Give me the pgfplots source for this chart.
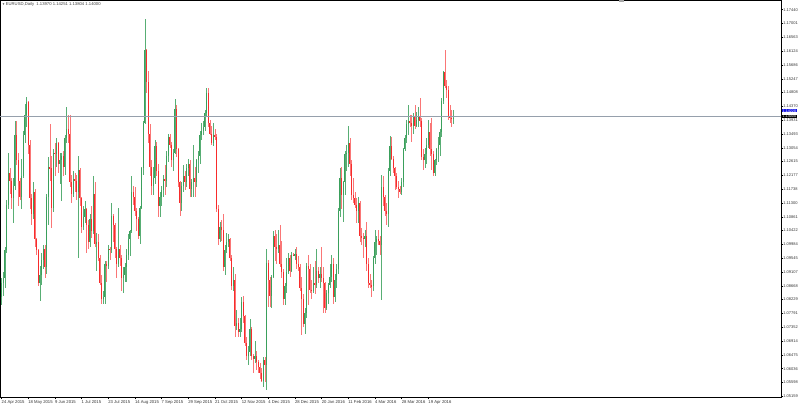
\documentclass[border=0pt]{standalone}
\usepackage{fontspec}
\setmainfont{Liberation Sans}
\usepackage{pgfplots}
\pgfplotsset{compat=1.18}
\usepackage{pgfplotstable}

\definecolor{bull}{RGB}{58,160,92}
\definecolor{bear}{RGB}{248,44,44}
\definecolor{bidline}{RGB}{150,160,172}
\definecolor{askbox}{RGB}{20,20,230}

% EURUSD daily, bar index from 24 Apr 2015
\pgfplotstableread{
i o h l c
0 1.0830 1.0890 1.0805 1.0875
1 1.0875 1.0910 1.0835 1.0890
2 1.0890 1.0990 1.0860 1.0980
3 1.0980 1.1140 1.0970 1.1125
4 1.1125 1.1290 1.1110 1.1225
5 1.1225 1.1240 1.1160 1.1200
6 1.1200 1.1210 1.1110 1.1145
7 1.1145 1.1210 1.1065 1.1185
8 1.1185 1.1390 1.1170 1.1345
9 1.1345 1.1390 1.1250 1.1265
10 1.1265 1.1290 1.1120 1.1200
11 1.1200 1.1210 1.1140 1.1150
12 1.1150 1.1270 1.1110 1.1215
13 1.1215 1.1360 1.1210 1.1345
14 1.1345 1.1445 1.1320 1.1410
15 1.1410 1.1467 1.1370 1.1450
16 1.1450 1.1455 1.1285 1.1315
17 1.1315 1.1330 1.1110 1.1145
18 1.1145 1.1160 1.1060 1.1095
19 1.1095 1.1195 1.1080 1.1165
20 1.1165 1.1175 1.0990 1.1015
21 1.1015 1.1020 1.0965 1.0980
22 1.0980 1.0985 1.0865 1.0875
23 1.0875 1.0930 1.0820 1.0900
24 1.0900 1.0970 1.0870 1.0950
25 1.0950 1.0995 1.0920 1.0985
26 1.0985 1.0995 1.0890 1.0925
27 1.0925 1.1160 1.0905 1.1150
28 1.1150 1.1275 1.1060 1.1245
29 1.1245 1.1380 1.1200 1.1240
30 1.1240 1.1280 1.1050 1.1115
31 1.1115 1.1300 1.1100 1.1290
32 1.1290 1.1320 1.1215 1.1285
33 1.1285 1.1335 1.1245 1.1320
34 1.1320 1.1325 1.1225 1.1255
35 1.1255 1.1290 1.1190 1.1265
36 1.1265 1.1290 1.1135 1.1280
37 1.1280 1.1295 1.1215 1.1245
38 1.1245 1.1345 1.1220 1.1335
39 1.1335 1.1435 1.1320 1.1365
40 1.1365 1.1410 1.1320 1.1350
41 1.1350 1.1410 1.1180 1.1195
42 1.1195 1.1220 1.1130 1.1160
43 1.1160 1.1230 1.1150 1.1205
44 1.1205 1.1225 1.1165 1.1200
45 1.1200 1.1220 1.1140 1.1165
46 1.1165 1.1280 1.0955 1.1235
47 1.1235 1.1240 1.1120 1.1145
48 1.1145 1.1150 1.1035 1.1055
49 1.1055 1.1120 1.1045 1.1085
50 1.1085 1.1135 1.1065 1.1110
51 1.1110 1.1115 1.0970 1.1060
52 1.1060 1.1075 1.0985 1.1005
53 1.1005 1.1095 1.0990 1.1080
54 1.1080 1.1120 1.1020 1.1040
55 1.1040 1.1215 1.1030 1.1160
56 1.1160 1.1195 1.0990 1.1000
57 1.1000 1.1035 1.0915 1.1005
58 1.1005 1.1030 1.0945 1.0955
59 1.0955 1.0965 1.0870 1.0875
60 1.0875 1.0900 1.0810 1.0825
61 1.0825 1.0850 1.0810 1.0830
62 1.0830 1.0945 1.0810 1.0935
63 1.0935 1.0945 1.0880 1.0930
64 1.0930 1.0995 1.0920 1.0985
65 1.0985 1.0990 1.0950 1.0980
66 1.0980 1.1130 1.0970 1.1090
67 1.1090 1.1095 1.1005 1.1060
68 1.1060 1.1065 1.0955 1.0985
69 1.0985 1.0990 1.0890 1.0935
70 1.0935 1.1115 1.0925 1.0985
71 1.0985 1.0995 1.0930 1.0955
72 1.0955 1.0965 1.0850 1.0890
73 1.0890 1.0925 1.0845 1.0900
74 1.0900 1.0940 1.0880 1.0925
75 1.0925 1.0985 1.0880 1.0965
76 1.0965 1.1030 1.0950 1.1015
77 1.1015 1.1045 1.0960 1.1040
78 1.1040 1.1215 1.1035 1.1165
79 1.1165 1.1185 1.1125 1.1150
80 1.1150 1.1180 1.1090 1.1105
81 1.1105 1.1115 1.1040 1.1080
82 1.1080 1.1085 1.1015 1.1025
83 1.1025 1.1120 1.1000 1.1115
84 1.1115 1.1245 1.1110 1.1240
85 1.1240 1.1390 1.1220 1.1385
86 1.1385 1.1714 1.1380 1.1615
87 1.1615 1.1620 1.1480 1.1515
88 1.1515 1.1550 1.1320 1.1350
89 1.1350 1.1380 1.1215 1.1245
90 1.1245 1.1265 1.1155 1.1185
91 1.1185 1.1245 1.1155 1.1210
92 1.1210 1.1330 1.1190 1.1310
93 1.1310 1.1325 1.1215 1.1230
94 1.1230 1.1255 1.1085 1.1120
95 1.1120 1.1165 1.1085 1.1150
96 1.1150 1.1185 1.1120 1.1170
97 1.1170 1.1220 1.1150 1.1205
98 1.1205 1.1250 1.1155 1.1200
99 1.1200 1.1295 1.1180 1.1280
100 1.1280 1.1350 1.1260 1.1340
101 1.1340 1.1350 1.1305 1.1315
102 1.1315 1.1325 1.1245 1.1265
103 1.1265 1.1300 1.1230 1.1290
104 1.1290 1.1460 1.1285 1.1430
105 1.1430 1.1440 1.1275 1.1300
106 1.1300 1.1305 1.1180 1.1195
107 1.1195 1.1200 1.1090 1.1130
108 1.1130 1.1195 1.1105 1.1185
109 1.1185 1.1250 1.1165 1.1215
110 1.1215 1.1230 1.1170 1.1195
111 1.1195 1.1255 1.1180 1.1240
112 1.1240 1.1270 1.1215 1.1255
113 1.1255 1.1265 1.1150 1.1175
114 1.1175 1.1205 1.1150 1.1195
115 1.1195 1.1315 1.1150 1.1210
116 1.1210 1.1245 1.1150 1.1195
117 1.1195 1.1270 1.1180 1.1265
118 1.1265 1.1295 1.1225 1.1280
119 1.1280 1.1360 1.1255 1.1345
120 1.1345 1.1385 1.1330 1.1360
121 1.1360 1.1390 1.1345 1.1370
122 1.1370 1.1425 1.1360 1.1415
123 1.1415 1.1495 1.1405 1.1480
124 1.1480 1.1495 1.1370 1.1385
125 1.1385 1.1395 1.1345 1.1350
126 1.1350 1.1375 1.1315 1.1320
127 1.1320 1.1385 1.1310 1.1345
128 1.1345 1.1365 1.1330 1.1340
129 1.1340 1.1350 1.1100 1.1110
130 1.1110 1.1125 1.0995 1.1015
131 1.1015 1.1070 1.1005 1.1055
132 1.1055 1.1075 1.1010 1.1045
133 1.1045 1.1095 1.0915 1.0925
134 1.0925 1.0995 1.0900 1.0980
135 1.0980 1.1035 1.0970 1.1005
136 1.1005 1.1030 1.0990 1.1015
137 1.1015 1.1020 1.0945 1.0955
138 1.0955 1.0965 1.0855 1.0865
139 1.0865 1.0925 1.0850 1.0885
140 1.0885 1.0905 1.0705 1.0740
141 1.0740 1.0790 1.0725 1.0750
142 1.0750 1.0765 1.0705 1.0720
143 1.0720 1.0765 1.0705 1.0730
144 1.0730 1.0830 1.0720 1.0815
145 1.0815 1.0835 1.0750 1.0770
146 1.0770 1.0775 1.0675 1.0685
147 1.0685 1.0705 1.0630 1.0645
148 1.0645 1.0675 1.0615 1.0655
149 1.0655 1.0760 1.0645 1.0730
150 1.0730 1.0735 1.0630 1.0645
151 1.0645 1.0650 1.0590 1.0635
152 1.0635 1.0690 1.0620 1.0645
153 1.0645 1.0660 1.0600 1.0625
154 1.0625 1.0630 1.0590 1.0610
155 1.0610 1.0620 1.0570 1.0590
156 1.0590 1.0605 1.0560 1.0565
157 1.0565 1.0640 1.0545 1.0630
158 1.0630 1.0640 1.0560 1.0615
159 1.0615 1.0985 1.0535 1.0940
160 1.0940 1.0950 1.0800 1.0885
161 1.0885 1.0895 1.0800 1.0835
162 1.0835 1.0900 1.0795 1.0895
163 1.0895 1.1040 1.0890 1.1025
164 1.1025 1.1045 1.0945 1.0990
165 1.0990 1.1030 1.0935 1.0985
166 1.0985 1.1045 1.0970 1.0995
167 1.0995 1.1060 1.0925 1.0935
168 1.0935 1.1010 1.0890 1.0910
169 1.0910 1.0920 1.0805 1.0825
170 1.0825 1.0875 1.0805 1.0865
171 1.0865 1.0955 1.0845 1.0910
172 1.0910 1.0970 1.0905 1.0955
173 1.0955 1.0965 1.0895 1.0915
174 1.0915 1.0975 1.0910 1.0965
175 1.0965 1.0970 1.0960 1.0963
176 1.0963 1.0985 1.0950 1.0968
177 1.0968 1.0990 1.0920 1.0935
178 1.0935 1.0960 1.0915 1.0925
179 1.0925 1.0935 1.0850 1.0860
180 1.0860 1.0895 1.0710 1.0825
181 1.0825 1.0840 1.0735 1.0745
182 1.0745 1.0795 1.0715 1.0780
183 1.0780 1.0940 1.0765 1.0930
184 1.0930 1.0965 1.0805 1.0920
185 1.0920 1.0935 1.0845 1.0855
186 1.0855 1.0885 1.0825 1.0850
187 1.0850 1.0925 1.0845 1.0875
188 1.0875 1.0945 1.0840 1.0870
189 1.0870 1.0985 1.0860 1.0915
190 1.0915 1.0925 1.0875 1.0890
191 1.0890 1.0925 1.0860 1.0905
192 1.0905 1.0990 1.0880 1.0890
193 1.0890 1.0925 1.0780 1.0875
194 1.0875 1.0880 1.0780 1.0795
195 1.0795 1.0855 1.0790 1.0845
196 1.0845 1.0875 1.0810 1.0870
197 1.0870 1.0935 1.0860 1.0895
198 1.0895 1.0965 1.0880 1.0935
199 1.0935 1.0955 1.0810 1.0830
200 1.0830 1.0905 1.0815 1.0885
201 1.0885 1.0935 1.0860 1.0920
202 1.0920 1.1115 1.0905 1.1105
203 1.1105 1.1240 1.1085 1.1210
204 1.1210 1.1245 1.1110 1.1155
205 1.1155 1.1200 1.1070 1.1195
206 1.1195 1.1295 1.1155 1.1285
207 1.1285 1.1315 1.1230 1.1290
208 1.1290 1.1376 1.1245 1.1320
209 1.1320 1.1335 1.1215 1.1255
210 1.1255 1.1265 1.1140 1.1155
211 1.1155 1.1210 1.1130 1.1145
212 1.1145 1.1165 1.1115 1.1125
213 1.1125 1.1145 1.1065 1.1105
214 1.1105 1.1150 1.1065 1.1130
215 1.1130 1.1135 1.1005 1.1025
216 1.1025 1.1050 1.0995 1.1020
217 1.1020 1.1035 1.0955 1.1015
218 1.1015 1.1045 1.0990 1.1025
219 1.1025 1.1070 1.0915 1.0935
220 1.0935 1.0955 1.0860 1.0875
221 1.0875 1.0905 1.0860 1.0870
222 1.0870 1.0885 1.0830 1.0865
223 1.0865 1.0960 1.0850 1.0955
224 1.0955 1.1045 1.0935 1.1005
225 1.1005 1.1025 1.0965 1.1015
226 1.1015 1.1045 1.0995 1.1010
227 1.1010 1.1025 1.0965 1.0995
228 1.0995 1.1218 1.0822 1.1180
229 1.1180 1.1215 1.1120 1.1150
230 1.1150 1.1155 1.1090 1.1105
231 1.1105 1.1130 1.1060 1.1095
232 1.1095 1.1240 1.1055 1.1230
233 1.1230 1.1342 1.1215 1.1310
234 1.1310 1.1340 1.1265 1.1270
235 1.1270 1.1280 1.1225 1.1240
236 1.1240 1.1245 1.1170 1.1215
237 1.1215 1.1225 1.1175 1.1180
238 1.1180 1.1200 1.1145 1.1175
239 1.1175 1.1185 1.1160 1.1165
240 1.1165 1.1210 1.1155 1.1195
241 1.1195 1.1305 1.1180 1.1300
242 1.1300 1.1345 1.1295 1.1335
243 1.1335 1.1395 1.1320 1.1380
244 1.1380 1.1440 1.1345 1.1390
245 1.1390 1.1410 1.1370 1.1385
246 1.1385 1.1410 1.1325 1.1375
247 1.1375 1.1415 1.1350 1.1405
248 1.1405 1.1440 1.1365 1.1375
249 1.1375 1.1420 1.1370 1.1395
250 1.1395 1.1435 1.1370 1.1405
251 1.1405 1.1465 1.1370 1.1390
252 1.1390 1.1400 1.1265 1.1275
253 1.1275 1.1300 1.1235 1.1265
254 1.1265 1.1305 1.1240 1.1285
255 1.1285 1.1335 1.1255 1.1315
256 1.1315 1.1395 1.1305 1.1355
257 1.1355 1.1385 1.1280 1.1300
258 1.1300 1.1400 1.1235 1.1285
259 1.1285 1.1295 1.1215 1.1225
260 1.1225 1.1270 1.1215 1.1265
261 1.1265 1.1305 1.1250 1.1300
262 1.1300 1.1340 1.1260 1.1315
263 1.1315 1.1365 1.1280 1.1355
264 1.1355 1.1465 1.1340 1.1455
265 1.1455 1.1550 1.1445 1.1545
266 1.1545 1.1616 1.1495 1.1500
267 1.1500 1.1520 1.1465 1.1490
268 1.1490 1.1500 1.1395 1.1405
269 1.1405 1.1440 1.1385 1.1400
270 1.1400 1.1425 1.1370 1.1397
271 1.1397 1.1425 1.1380 1.1400
}\ohlc

\pgfplotsset{
  candle/.style={only marks, mark size=0pt, mark options={draw=none, fill=none}, forget plot,
    error bars/.cd, y dir=both, y explicit, error mark=none,
    error bar style={draw=#1}},
}

\begin{document}
\begin{tikzpicture}[x=1pt,y=1pt]
\useasboundingbox (0,0) rectangle (800,407);
\begin{axis}[
    at={(0pt,10pt)}, anchor=south west,
    scale only axis, width=781pt, height=397pt,
    xmin=-0.9, xmax=467.6,
    ymin=1.05135, ymax=1.17748,
    clip=false,
    axis line style={black, line width=0.7pt},
    tick align=outside,
    major tick length=2.2pt,
    tick style={black, line width=0.4pt},
    xtick pos=left, ytick pos=right,
    yticklabel pos=right,
    xtick={0,16,...,256},
    xticklabels={24 Apr 2015, 18 May 2015, 9 Jun 2015, 1 Jul 2015, 23 Jul 2015, 14 Aug 2015, 7 Sep 2015, 29 Sep 2015, 21 Oct 2015, 12 Nov 2015, 4 Dec 2015, 28 Dec 2015, 20 Jan 2016, 11 Feb 2016, 4 Mar 2016, 28 Mar 2016, 19 Apr 2016},
    xticklabel style={anchor=north west, inner sep=0pt, font=\fontsize{4.2}{5}\selectfont, text=black!80, yshift=-1pt},
    ytick={1.05159,1.05598,1.06036,1.06475,1.06914,1.07352,1.07791,1.08229,1.08668,1.09107,1.09545,1.09984,1.10422,1.10861,1.11300,1.11738,1.12177,1.12615,1.13054,1.13493,1.13931,1.14370,1.14808,1.15247,1.15686,1.16124,1.16563,1.17001,1.17440},
    yticklabels={1.05159,1.05598,1.06036,1.06475,1.06914,1.07352,1.07791,1.08229,1.08668,1.09107,1.09545,1.09984,1.10422,1.10861,1.11300,1.11738,1.12177,1.12615,1.13054,1.13493,1.13931,1.14370,1.14808,1.15247,1.15686,1.16124,1.16563,1.17001,1.17440},
    yticklabel style={anchor=west, inner sep=0pt, font=\fontsize{4}{5}\selectfont, text=black!80},
]

% wicks
\addplot[candle={bull!85, line width=0.45pt}]
    table[x=i, y expr={\thisrow{c}>=\thisrow{o} ? 0.5*(\thisrow{h}+\thisrow{l}) : nan},
          y error expr={0.5*(\thisrow{h}-\thisrow{l})}] {\ohlc};
\addplot[candle={bear!65, line width=0.45pt}]
    table[x=i, y expr={\thisrow{c}<\thisrow{o} ? 0.5*(\thisrow{h}+\thisrow{l}) : nan},
          y error expr={0.5*(\thisrow{h}-\thisrow{l})}] {\ohlc};

% bodies
\addplot[candle={bull, line width=1.1pt}]
    table[x=i, y expr={\thisrow{c}>=\thisrow{o} ? 0.5*(\thisrow{o}+\thisrow{c}) : nan},
          y error expr={max(0.5*abs(\thisrow{c}-\thisrow{o}),0.00004)}] {\ohlc};
\addplot[candle={bear, line width=1.1pt}]
    table[x=i, y expr={\thisrow{c}<\thisrow{o} ? 0.5*(\thisrow{o}+\thisrow{c}) : nan},
          y error expr={max(0.5*abs(\thisrow{c}-\thisrow{o}),0.00004)}] {\ohlc};

% bid line
\addplot[bidline, line width=0.6pt, forget plot] coordinates {(-0.9,1.1404) (467.6,1.1404)};

% price labels on the scale
\node[fill=askbox, text=white, anchor=west, inner xsep=0.5pt, inner ysep=0.2pt, font=\fontsize{3.7}{4}\selectfont, xshift=1pt]
    at (axis cs:467.6,1.1423) {1.14220};
\node[fill=black, text=white, anchor=west, inner xsep=0.5pt, inner ysep=0.2pt, font=\fontsize{3.7}{4}\selectfont, xshift=1pt]
    at (axis cs:467.6,1.1404) {1.14000};

% title line at the top left
\node[anchor=west, inner sep=0pt, font=\fontsize{4.2}{5}\selectfont, text=black!75, xshift=2pt, yshift=-4.2pt]
    at (rel axis cs:0,1) {{\fontsize{3}{3}\selectfont ▼}\,EURUSD,Daily\ \ 1.13970 1.14251 1.13804 1.14000};

% chart shift marker
\node[fill=gray!70, minimum width=5pt, minimum height=1.5pt, inner sep=0pt, anchor=north]
    at (rel axis cs:0.7964,1) {};
\end{axis}
\end{tikzpicture}
\end{document}
